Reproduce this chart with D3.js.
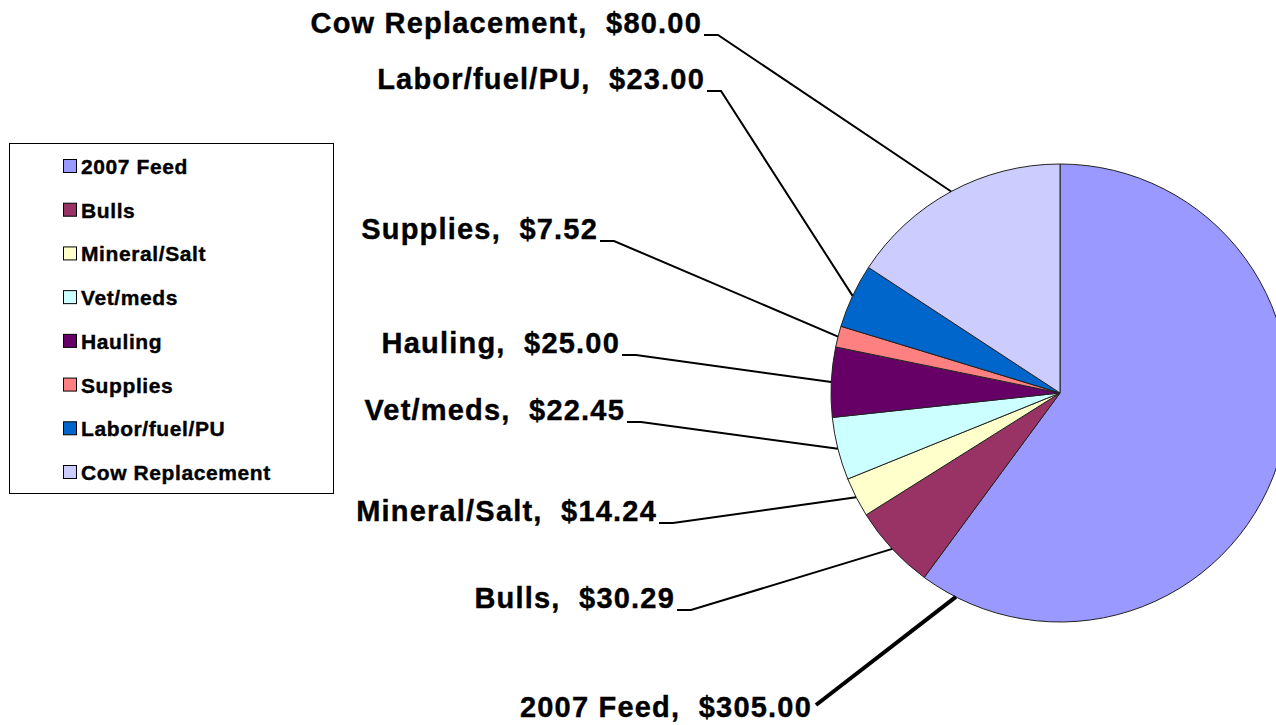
<!DOCTYPE html>
<html>
<head>
<meta charset="utf-8">
<script src="https://cdnjs.cloudflare.com/ajax/libs/d3/7.8.5/d3.min.js"></script>
<style>
  body { margin: 0; background: #fff; }
  svg { display: block; }
  text { font-family: "Liberation Sans", Arial, sans-serif; font-weight: bold; fill: #000; white-space: pre; }
</style>
</head>
<body>
<div id="chart"></div>
<script>
const width = 1276;
const height = 725;

// data
const categories = ["2007 Feed", "Bulls", "Mineral/Salt", "Vet/meds", "Hauling", "Supplies", "Labor/fuel/PU", "Cow Replacement"];
const costs = [305.00, 30.29, 14.24, 22.45, 25.00, 7.52, 23.00, 80.00];
const colors = ["#9999FF", "#993366", "#FFFFCC", "#CCFFFF", "#660066", "#FF8080", "#0066CC", "#CCCCFF"];

// label layout: right edge x and leader y of each data label, placed by hand like the original
const labelPos = [[812, 705], [675, 610], [657, 523], [625, 422], [620, 355], [598, 241], [705, 91], [702, 35]];
// where along its slice's arc each leader line touches (0 = start, 1 = end)
const leaderAt = [0.957, 0.5, 0.5, 0.5, 0.5, 0.5, 0.5, 0.5];

const cx = 1060, cy = 393, r = 229;

const svg = d3.select("#chart")
    .append("svg")
    .attr("width", width)
    .attr("height", height);

const pie = d3.pie().sort(null).value(d => d);
const arcs = pie(costs);
const arc = d3.arc().innerRadius(0).outerRadius(r);

const g = svg.append("g")
    .attr("transform", `translate(${cx},${cy})`);

g.selectAll("path.slice")
    .data(arcs)
    .enter().append("path")
    .attr("class", "slice")
    .attr("d", arc)
    .attr("fill", (d, i) => colors[i])
    .attr("stroke", "#222")
    .attr("stroke-width", 1);

const fmt = d3.format("$.2f");

// leader lines
arcs.forEach((d, i) => {
    const a = d.startAngle + (d.endAngle - d.startAngle) * leaderAt[i];
    const ex = cx + r * Math.sin(a);
    const ey = cy - r * Math.cos(a);
    const [lx, ly] = labelPos[i];
    const pts = i === 0
        ? [[lx + 4, ly], [ex, ey]]
        : [[lx + 2, ly], [lx + 16, ly], [ex, ey]];
    svg.append("path")
        .attr("d", d3.line()(pts))
        .attr("fill", "none")
        .attr("stroke", "#000")
        .attr("stroke-width", i === 0 ? 4 : 2);
});

// data labels
svg.selectAll("text.label")
    .data(arcs)
    .enter().append("text")
    .attr("class", "label")
    .attr("x", (d, i) => labelPos[i][0])
    .attr("y", (d, i) => i === 0 ? labelPos[i][1] + 12 : labelPos[i][1] - 2)
    .attr("text-anchor", "end")
    .style("font-size", "29px")
    .style("letter-spacing", "1.2px")
    .style("stroke", "#000")
    .style("stroke-width", 0.4)
    .text((d, i) => `${categories[i]},  ${fmt(d.data)}`);

// legend
const legend = svg.append("g");
legend.append("rect")
    .attr("x", 9.5)
    .attr("y", 143.5)
    .attr("width", 324)
    .attr("height", 350)
    .attr("fill", "#fff")
    .attr("stroke", "#000")
    .attr("stroke-width", 1);

const ly = d3.scaleLinear().domain([0, categories.length - 1]).range([166, 472]);

const item = legend.selectAll("g.item")
    .data(categories)
    .enter().append("g")
    .attr("class", "item")
    .attr("transform", (d, i) => `translate(0,${ly(i)})`);

item.append("rect")
    .attr("x", 63.5)
    .attr("y", -6.5)
    .attr("width", 13)
    .attr("height", 13)
    .attr("fill", (d, i) => colors[i])
    .attr("stroke", "#000")
    .attr("stroke-width", 1);

item.append("text")
    .attr("x", 81)
    .attr("y", 8)
    .style("font-size", "21px")
    .style("letter-spacing", "0.6px")
    .style("stroke", "#000")
    .style("stroke-width", 0.4)
    .text(d => d);
</script>
</body>
</html>
